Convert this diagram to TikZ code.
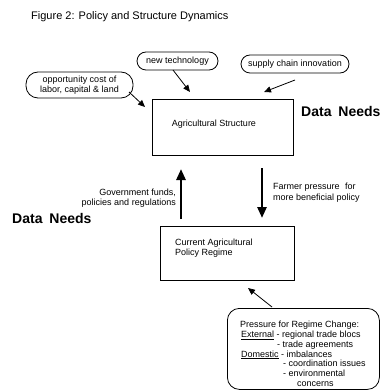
\documentclass[tikz,border=0pt]{standalone}
\usepackage{fontspec}
\setmainfont{Liberation Sans}
\usetikzlibrary{arrows.meta}
\begin{document}
\begin{tikzpicture}[x=1pt,y=-1pt,
  txt/.style={font=\fontsize{9}{10}\selectfont, inner sep=0pt},
  oval/.style={draw, line width=0.8pt, inner sep=0pt, font=\fontsize{9}{10}\selectfont},
  boxnode/.style={draw, line width=0.8pt, inner sep=0pt},
  thinarrow/.style={line width=0.8pt, -{Triangle[length=7pt,width=6pt]}},
  thickarrow/.style={line width=2.6pt, -{Triangle[length=11pt,width=9pt]}},
  needs/.style={font=\fontsize{14}{16}\selectfont\bfseries, inner sep=0pt}]
\useasboundingbox (0,0) rectangle (380,390);
% title
\node[anchor=base west, inner sep=0pt, font=\fontsize{11}{13}\selectfont] (title) at (31,20) {Figure 2: Policy and Structure Dynamics};
% main boxes
\node[boxnode, minimum width=141pt, minimum height=56pt] (agri) at (222.5,127) {};
\node[txt] (agritext) at (214,124) {Agricultural Structure};
\node[boxnode, minimum width=134pt, minimum height=54pt] (cur) at (227,253) {};
\node[txt, align=left, anchor=north west, font=\fontsize{9}{9.5}\selectfont] (curtext) at (175,239) {Current Agricultural\\Policy Regime};
% ovals
\node[oval, rounded corners=9pt, minimum width=81pt, minimum height=18pt] (newtech) at (177.5,61) {new technology};
\node[oval, rounded corners=9pt, minimum width=108pt, minimum height=18pt] (supply) at (295,64) {supply chain innovation};
\node[oval, rounded corners=12pt, minimum width=107pt, minimum height=26pt, align=center, font=\fontsize{9}{9.5}\selectfont] (opp) at (79.5,85) {opportunity cost of\\labor, capital \& land};
% data needs
\node[needs, anchor=base west] (dnright) at (301,117) {Data\hspace{3pt} Needs};
\node[needs, anchor=base west] (dnleft) at (12,223) {Data\hspace{3pt} Needs};
% arrow labels
\node[txt, align=right, anchor=north east, font=\fontsize{9}{10}\selectfont] (gov) at (176,189) {Government funds,\\policies and regulations};
\node[txt, align=left, anchor=north west, font=\fontsize{9}{10.5}\selectfont] (farmer) at (273,183) {Farmer pressure\hspace{3pt} for\\more beneficial policy};
% pressure box
\node[boxnode, rounded corners=12pt, minimum width=152pt, minimum height=81pt, anchor=north west] (press) at (227,308) {};
\node[txt, align=left, anchor=north west, font=\fontsize{9}{9.8}\selectfont] (presstext) at (240,321) {Pressure for Regime Change:\\
\hspace*{1pt}\underline{External} - regional trade blocs\\
\hspace*{37pt}- trade agreements\\
\hspace*{1pt}\underline{Domestic} - imbalances\\
\hspace*{43pt}- coordination issues\\
\hspace*{43pt}- environmental\\
\hspace*{57pt}concerns};
% arrow end points
\coordinate (ntstart) at (173,70);
\coordinate (nttip) at (190,92);
\coordinate (scstart) at (295,80);
\coordinate (sctip) at (264,92);
\coordinate (opstart) at (129,92);
\coordinate (optip) at (145,107);
\coordinate (upstart) at (181,219);
\coordinate (uptip) at (181,169);
\coordinate (downstart) at (262,168);
\coordinate (downtip) at (262,218);
\coordinate (prstart) at (272,307);
\coordinate (prtip) at (248,288);
% arrows
\draw[thinarrow] (ntstart) -- (nttip);
\draw[thinarrow] (scstart) -- (sctip);
\draw[thinarrow] (opstart) -- (optip);
\draw[thinarrow] (prstart) -- (prtip);
\draw[thickarrow] (upstart) -- (uptip);
\draw[thickarrow] (downstart) -- (downtip);
\end{tikzpicture}
\end{document}
